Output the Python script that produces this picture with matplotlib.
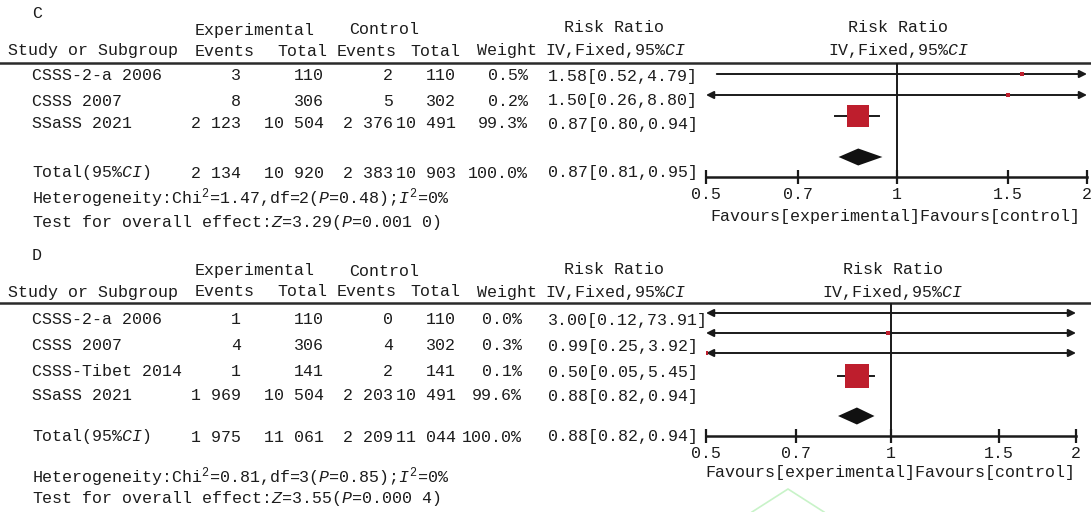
import matplotlib
matplotlib.use("Agg")
import matplotlib.pyplot as plt
from matplotlib.ticker import NullLocator

plt.rcParams['font.family'] = ['Liberation Mono', 'DejaVu Sans Mono']
plt.rcParams['mathtext.fontset'] = 'custom'
plt.rcParams['mathtext.rm'] = 'Liberation Mono'
plt.rcParams['mathtext.it'] = 'Liberation Mono:italic'

# ---- panel C data ----
studies_c = ["CSSS-2-a 2006", "CSSS 2007", "SSaSS 2021"]
exp_events_c = [3, 8, 2123]
exp_total_c = [110, 306, 10504]
ctl_events_c = [2, 5, 2376]
ctl_total_c = [110, 302, 10491]
weight_c = [0.5, 0.2, 99.3]
rr_c = [1.58, 1.50, 0.87]
rr_lo_c = [0.52, 0.26, 0.80]
rr_hi_c = [4.79, 8.80, 0.94]
total_counts_c = [2134, 10920, 2383, 10903]
total_rr_c = [0.87, 0.81, 0.95]
het_c = r"Heterogeneity:Chi$^2$=1.47,df=2($\mathit{P}$=0.48);$\mathit{I}^2$=0%"
test_c = r"Test for overall effect:$\mathit{Z}$=3.29($\mathit{P}$=0.001 0)"

# ---- panel D data ----
studies_d = ["CSSS-2-a 2006", "CSSS 2007", "CSSS-Tibet 2014", "SSaSS 2021"]
exp_events_d = [1, 4, 1, 1969]
exp_total_d = [110, 306, 141, 10504]
ctl_events_d = [0, 4, 2, 2203]
ctl_total_d = [110, 302, 141, 10491]
weight_d = [0.0, 0.3, 0.1, 99.6]
rr_d = [3.00, 0.99, 0.50, 0.88]
rr_lo_d = [0.12, 0.25, 0.05, 0.82]
rr_hi_d = [73.91, 3.92, 5.45, 0.94]
total_counts_d = [1975, 11061, 2209, 11044]
total_rr_d = [0.88, 0.82, 0.94]
het_d = r"Heterogeneity:Chi$^2$=0.81,df=3($\mathit{P}$=0.85);$\mathit{I}^2$=0%"
test_d = r"Test for overall effect:$\mathit{Z}$=3.55($\mathit{P}$=0.000 4)"

x_ticks = [0.5, 0.7, 1, 1.5, 2]

W, H = 1091, 512
TXT = '#1c1c1c'
SQ = '#be1e2d'
FS = 12

fig = plt.figure(figsize=(W / 100, H / 100), dpi=100)
bg = fig.add_axes([0, 0, 1, 1])
bg.set_xlim(0, W)
bg.set_ylim(H, 0)
bg.axis('off')


def num(n):
    return f"{n:,}".replace(",", " ")


def txt(x, y, s, ha='left', **kw):
    bg.text(x, y, s, ha=ha, va='center', fontsize=FS, color=TXT, **kw)


def draw_panel(label, studies, ee, et, ce, ct, w, rr, lo, hi, tot_counts, tot_rr,
               het, test, pos):
    ly = pos['line']
    txt(32, pos['label'], label)
    txt(195, pos['group'], "Experimental")
    txt(349, pos['group'], "Control")
    hy = pos['head']
    txt(8, hy, "Study or Subgroup")
    txt(195, hy, "Events")
    txt(327, hy, "Total", ha='right')
    txt(337, hy, "Events")
    txt(460, hy, "Total", ha='right')
    txt(537, hy, "Weight", ha='right')
    txt(545, hy, r"IV,Fixed,95%$\mathit{CI}$")
    txt(614, pos['group'] - 2, "Risk Ratio", ha='center')
    x0, x1 = pos['ax_x']
    xc = (x0 + x1) / 2
    txt(xc + 2, pos['group'] - 2, "Risk Ratio", ha='center')
    txt(xc + 2, hy, r"IV,Fixed,95%$\mathit{CI}$", ha='center')
    bg.plot([0, W], [ly, ly], color='#2a2a2a', lw=1.8)

    # study rows
    for i, y in enumerate(pos['rows']):
        txt(32, y, studies[i])
        txt(241, y, num(ee[i]), ha='right')
        txt(324, y, num(et[i]), ha='right')
        txt(393, y, num(ce[i]), ha='right')
        txt(456, y, num(ct[i]), ha='right')
        txt(pos['wx'], y, f"{w[i]:.1f}%", ha='right')
        txt(548, y, f"{rr[i]:.2f}[{lo[i]:.2f},{hi[i]:.2f}]")

    ty = pos['total']
    txt(32, ty, r"Total(95%$\mathit{CI}$)")
    txt(241, ty, num(tot_counts[0]), ha='right')
    txt(324, ty, num(tot_counts[1]), ha='right')
    txt(393, ty, num(tot_counts[2]), ha='right')
    txt(456, ty, num(tot_counts[3]), ha='right')
    txt(pos['wx'], ty, f"{sum(w):.1f}%", ha='right')
    txt(548, ty, f"{tot_rr[0]:.2f}[{tot_rr[1]:.2f},{tot_rr[2]:.2f}]")
    txt(32, pos['het'], het)
    txt(32, pos['test'], test)

    # forest plot
    ay = pos['axis']
    ax = fig.add_axes([x0 / W, 1 - ay / H, (x1 - x0) / W, (ay - ly) / H])
    ax.set_xscale('log')
    ax.set_xlim(0.5, 2)
    ax.set_ylim(ay, ly)
    ax.patch.set_alpha(0)
    for s in ['left', 'right', 'top']:
        ax.spines[s].set_visible(False)
    ax.spines['bottom'].set_linewidth(1.8)
    ax.spines['bottom'].set_color('#1a1a1a')
    ax.set_yticks([])
    ax.set_xticks(x_ticks, [f"{t:g}" for t in x_ticks])
    ax.xaxis.set_minor_locator(NullLocator())
    ax.tick_params(axis='x', direction='inout', length=10, width=1.6,
                   colors='#1a1a1a', labelcolor=TXT, labelsize=FS, pad=2)
    ax.axvline(1, color='#1a1a1a', lw=1.4)

    xmin, xmax = 0.5, 2
    for i, y in enumerate(pos['plot_rows']):
        a = max(lo[i], xmin)
        b = min(hi[i], xmax)
        left = lo[i] < xmin
        right = hi[i] > xmax
        if left or right:
            style = '<|-|>' if (left and right) else ('-|>' if right else '<|-')
            ax.annotate('', xy=(b, y), xytext=(a, y),
                        arrowprops=dict(arrowstyle=style, color='#1a1a1a', lw=1.4,
                                        mutation_scale=11, shrinkA=0, shrinkB=0))
        else:
            ax.plot([a, b], [y, y], color='#1a1a1a', lw=1.4)
        if xmin <= rr[i] <= xmax:
            ms = max(16.6 * (w[i] / 100) ** 0.5, 2.2)
            ax.plot(rr[i], y, 's', ms=ms, color=SQ, mew=0, zorder=3)

    dy = pos['diamond']
    est, dlo, dhi = tot_rr
    ax.fill([dlo, est, dhi, est], [dy, dy - 8.5, dy, dy + 8.5], color='#111111', lw=0)

    txt(xc - 1, pos['fav'], "Favours[experimental]Favours[control]", ha='center')


draw_panel("C", studies_c, exp_events_c, exp_total_c, ctl_events_c, ctl_total_c,
           weight_c, rr_c, rr_lo_c, rr_hi_c, total_counts_c, total_rr_c, het_c, test_c,
           dict(label=14, group=30, head=51, line=63, rows=[76, 101, 124],
                total=173, het=198, test=222, plot_rows=[74, 95, 116],
                diamond=157, axis=177, ax_x=(706, 1087), fav=216, wx=528))

draw_panel("D", studies_d, exp_events_d, exp_total_d, ctl_events_d, ctl_total_d,
           weight_d, rr_d, rr_lo_d, rr_hi_d, total_counts_d, total_rr_d, het_d, test_d,
           dict(label=255, group=271, head=292, line=303, rows=[320, 346, 372, 396],
                total=437, het=477, test=499, plot_rows=[313, 333, 353, 376],
                diamond=416, axis=436, ax_x=(706, 1076), fav=472, wx=522))

# faint green mark near the bottom edge
bg.plot([752, 788, 824], [512, 489, 512], color='#c8f3c8', lw=1.2)

fig.savefig('out.png', dpi=100)
